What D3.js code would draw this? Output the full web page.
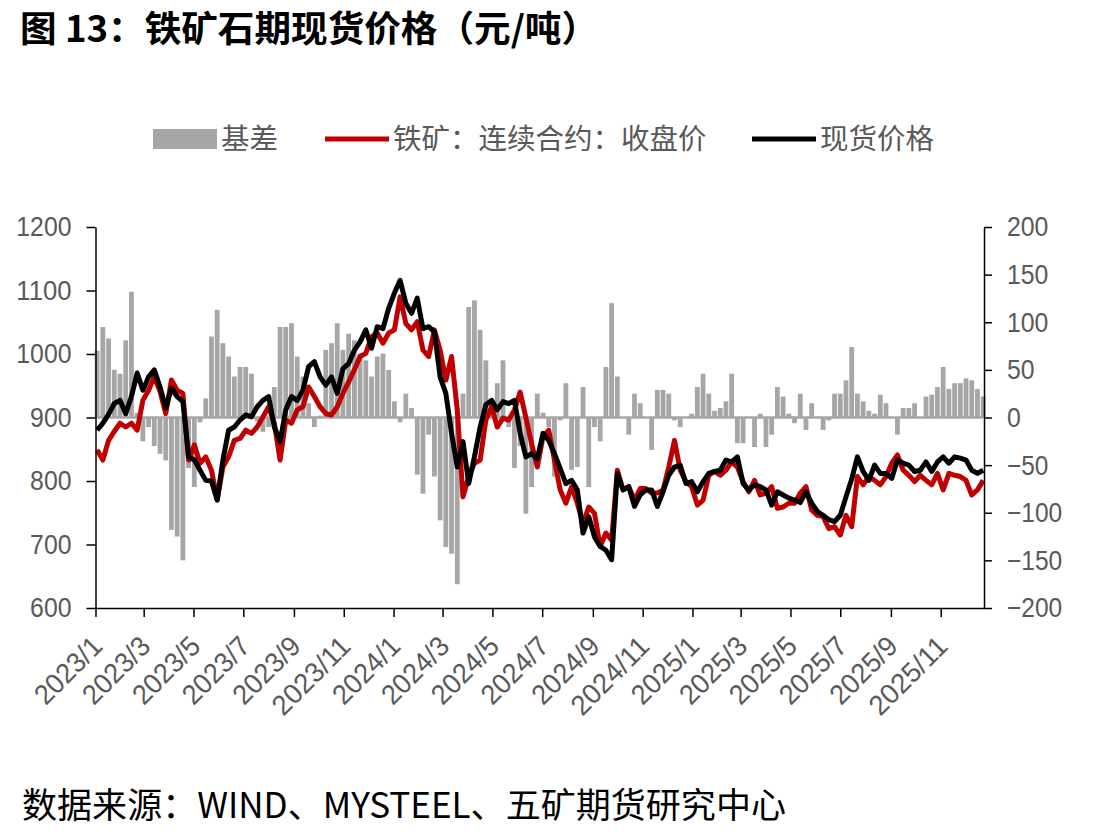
<!DOCTYPE html>
<html>
<head>
<meta charset="utf-8">
<script src="https://cdn.jsdelivr.net/npm/d3@7"></script>
<style>
  body { margin: 0; background: #fff; }
  svg { display: block; }
</style>
</head>
<body>
<svg id="chart" width="1119" height="838"></svg>
<script>
// weekly readings, first week starting 2023-01-03
const firstWeek = '2023-01-03';

// 现货价格
const spot = [
  880, 891, 905, 922, 927, 906, 933, 970, 943, 964,
  975, 948, 915, 946, 933, 925, 838, 833, 817, 801,
  800, 770, 833, 880, 885, 896, 904, 901, 917, 927,
  933, 885, 862, 912, 933, 927, 943, 980, 988, 964,
  951, 964, 938, 977, 985, 1006, 1019, 1038, 1009, 1043,
  1040, 1072, 1096, 1116, 1080, 1064, 1088, 1040, 1043, 1035,
  964, 938, 875, 822, 862, 796, 838, 885, 920, 927,
  912, 925, 922, 927, 875, 838, 843, 835, 875, 864,
  843, 820, 796, 801, 786, 718, 744, 712, 697, 691,
  676, 812, 786, 791, 760, 778, 786, 786, 760, 783,
  809, 822, 825, 796, 799, 783, 799, 812, 815, 817,
  833, 830, 838, 796, 786, 794, 791, 786, 762, 783,
  778, 773, 770, 766, 783, 765, 752, 746, 739, 736,
  746, 775, 803, 838, 815, 801, 825, 812, 812, 804,
  833, 828, 825, 815, 817, 830, 815, 830, 838, 828,
  838, 836, 833, 817, 812, 817
];

// 铁矿：连续合约：收盘价
const futures = [
  849, 833, 864, 878, 891, 885, 891, 880, 927, 943,
  964, 941, 906, 959, 943, 938, 833, 857, 828, 838,
  817, 770, 822, 838, 864, 867, 880, 875, 885, 901,
  917, 891, 833, 896, 891, 912, 917, 948, 933, 917,
  906, 904, 917, 938, 956, 975, 996, 1001, 1027, 1033,
  1017, 1033, 1038, 1090, 1048, 1038, 1051, 1006, 996, 1038,
  1006, 959, 996, 912, 775, 807, 828, 833, 896, 917,
  885, 899, 896, 912, 940, 900, 859, 822, 870, 880,
  833, 786, 765, 791, 765, 733, 759, 749, 697, 718,
  707, 817, 786, 791, 770, 788, 788, 781, 781, 786,
  822, 864, 817, 799, 791, 762, 770, 809, 815, 809,
  817, 830, 822, 799, 783, 801, 778, 781, 791, 757,
  759, 765, 765, 781, 791, 754, 746, 744, 725, 728,
  715, 746, 728, 807, 794, 807, 801, 794, 807, 828,
  841, 817, 809, 799, 809, 801, 794, 812, 786, 812,
  809, 807, 801, 778, 786, 801
];

// 基差
const basis = [
  70, 95, 83, 50, 46, 81, 132, 5, -25, -10,
  -30, -38, -45, -118, -125, -150, -53, -73, -5, 20,
  85, 113, 78, 64, 43, 53, 53, 46, -4, -15,
  -10, 32, 95, 95, 99, 64, 43, 15, -10, 2,
  71, 78, 99, 71, 88, 81, 67, 60, 43, 64,
  67, 50, 17, -5, 25, 10, -60, -80, -18, -62,
  -108, -136, -143, -175, 25, 116, 123, 92, 60, 15,
  36, 60, -10, -53, -30, -101, -73, 25, 5, -10,
  -62, -3, 36, -55, -52, 32, -73, -10, -25, 53,
  120, 43, 0, -18, 25, 15, 0, -34, 29, 29,
  25, -3, -10, 0, 4, 32, 46, 25, 7, 10,
  17, 46, -27, -27, 0, -31, 4, -31, -18, 32,
  22, 4, -6, 25, -13, 15, 0, -13, -3, 25,
  25, 39, 74, 25, 17, 7, 4, 24, 15, 0,
  -18, 10, 10, 15, 0, 22, 24, 32, 53, 30,
  36, 36, 41, 39, 30, 22
];

const xTickLabels = [
  '2023/1', '2023/3', '2023/5', '2023/7', '2023/9', '2023/11',
  '2024/1', '2024/3', '2024/5', '2024/7', '2024/9', '2024/11',
  '2025/1', '2025/3', '2025/5', '2025/7', '2025/9', '2025/11'
];
const leftTicks = [600, 700, 800, 900, 1000, 1100, 1200];
const rightTicks = [-200, -150, -100, -50, 0, 50, 100, 150, 200];

const titleText = '图 13：铁矿石期现货价格（元/吨）';
const sourceText = '数据来源：WIND、MYSTEEL、五矿期货研究中心';
const legendItems = [
  { name: '基差', type: 'bar', color: '#A6A6A6' },
  { name: '铁矿：连续合约：收盘价', type: 'line', color: '#C00000' },
  { name: '现货价格', type: 'line', color: '#000000' },
];

const svg = d3.select('#chart');
const cjk = '"Noto Sans CJK SC", "Noto Sans", sans-serif';
const numFont = '"Liberation Sans", Arial, sans-serif';
const textGray = '#595959';

const plot = { left: 95.5, right: 984, top: 227, bottom: 608 };

const parseWeek = d3.timeParse('%Y-%m-%d');
const parseMonth = d3.timeParse('%Y/%m');
const start = parseWeek(firstWeek);
const dates = spot.map((_, i) => d3.timeDay.offset(start, 7 * i));

const x = d3.scaleTime()
  .domain([new Date(2023, 0, 1), new Date(2025, 11, 24)])
  .range([plot.left, plot.right]);
const yLeft = d3.scaleLinear().domain([600, 1200]).range([plot.bottom, plot.top]);
const yRight = d3.scaleLinear().domain([-200, 200]).range([plot.bottom, plot.top]);

// narrow digits like the original's font
const narrowWidth = (s, w) => d3.sum(Array.from(s), ch => (ch === '/' ? w / 2 : w));

// title
svg.append('text')
  .attr('x', 20)
  .attr('y', 42)
  .attr('font-family', cjk)
  .attr('font-weight', 'bold')
  .attr('font-size', 36)
  .attr('textLength', 578)
  .attr('lengthAdjust', 'spacingAndGlyphs')
  .attr('fill', '#000')
  .text(titleText);

// basis bars
const bars = svg.append('g').attr('class', 'bars');
bars.append('line')
  .attr('x1', x(dates[0]))
  .attr('x2', x(dates[dates.length - 1]))
  .attr('y1', yRight(0))
  .attr('y2', yRight(0))
  .attr('stroke', '#A6A6A6')
  .attr('stroke-width', 2.5);
bars.selectAll('rect')
  .data(basis)
  .enter()
  .append('rect')
  .attr('x', (d, i) => x(dates[i]) - 2.4)
  .attr('width', 4.8)
  .attr('y', d => Math.min(yRight(d), yRight(0)))
  .attr('height', d => Math.abs(yRight(d) - yRight(0)))
  .attr('fill', '#A6A6A6');

// price lines
const line = d3.line()
  .x((d, i) => x(dates[i]))
  .y(d => yLeft(d));

svg.append('path')
  .datum(futures)
  .attr('fill', 'none')
  .attr('stroke', '#C00000')
  .attr('stroke-width', 5)
  .attr('stroke-linejoin', 'round')
  .attr('d', line);

svg.append('path')
  .datum(spot)
  .attr('fill', 'none')
  .attr('stroke', '#000')
  .attr('stroke-width', 5)
  .attr('stroke-linejoin', 'round')
  .attr('d', line);

// axes
const styleAxis = (g, w) => {
  g.select('.domain').attr('stroke', '#000').attr('stroke-width', 1.5);
  g.selectAll('.tick line').attr('stroke', '#000').attr('stroke-width', 1.5);
  g.selectAll('.tick text')
    .attr('fill', textGray)
    .attr('font-family', numFont)
    .attr('font-size', 28)
    .attr('lengthAdjust', 'spacingAndGlyphs')
    .attr('textLength', function () { return narrowWidth(this.textContent, w); });
};

svg.append('g')
  .attr('transform', `translate(${plot.left},0)`)
  .call(d3.axisLeft(yLeft).tickValues(leftTicks).tickFormat(d3.format('d'))
    .tickSize(9).tickSizeOuter(0).tickPadding(15))
  .call(styleAxis, 13.8);

svg.append('g')
  .attr('transform', `translate(${plot.right},0)`)
  .call(d3.axisRight(yRight).tickValues(rightTicks).tickFormat(d3.format('d'))
    .tickSize(8).tickSizeOuter(0).tickPadding(15))
  .call(styleAxis, 13.8);

const xAxis = svg.append('g')
  .attr('transform', `translate(0,${plot.bottom})`)
  .call(d3.axisBottom(x)
    .tickValues(xTickLabels.map(parseMonth))
    .tickFormat((d, i) => xTickLabels[i])
    .tickSize(9)
    .tickSizeOuter(0))
  .call(styleAxis, 15);

xAxis.selectAll('.tick text')
  .attr('text-anchor', 'end')
  .attr('dy', 0)
  .attr('y', 0)
  .attr('transform', 'translate(8,40) rotate(-45)');

// legend
const legend = svg.append('g').attr('transform', 'translate(0,139)');
const legendX = [153, 325, 752];
legendItems.forEach((item, i) => {
  const g = legend.append('g').attr('transform', `translate(${legendX[i]},0)`);
  if (item.type === 'bar') {
    g.append('rect').attr('x', 0).attr('y', -10).attr('width', 64).attr('height', 20).attr('fill', item.color);
  } else {
    g.append('line').attr('x1', 0).attr('x2', 64).attr('y1', 0).attr('y2', 0)
      .attr('stroke', item.color).attr('stroke-width', 5);
  }
  g.append('text')
    .attr('x', 68)
    .attr('dy', '0.36em')
    .attr('font-family', cjk)
    .attr('font-size', 28.5)
    .attr('fill', textGray)
    .text(item.name);
});

// source
svg.append('text')
  .attr('x', 22)
  .attr('y', 818)
  .attr('font-family', cjk)
  .attr('font-size', 35)
  .attr('textLength', 764)
  .attr('lengthAdjust', 'spacingAndGlyphs')
  .attr('fill', '#000')
  .text(sourceText);
</script>
</body>
</html>
